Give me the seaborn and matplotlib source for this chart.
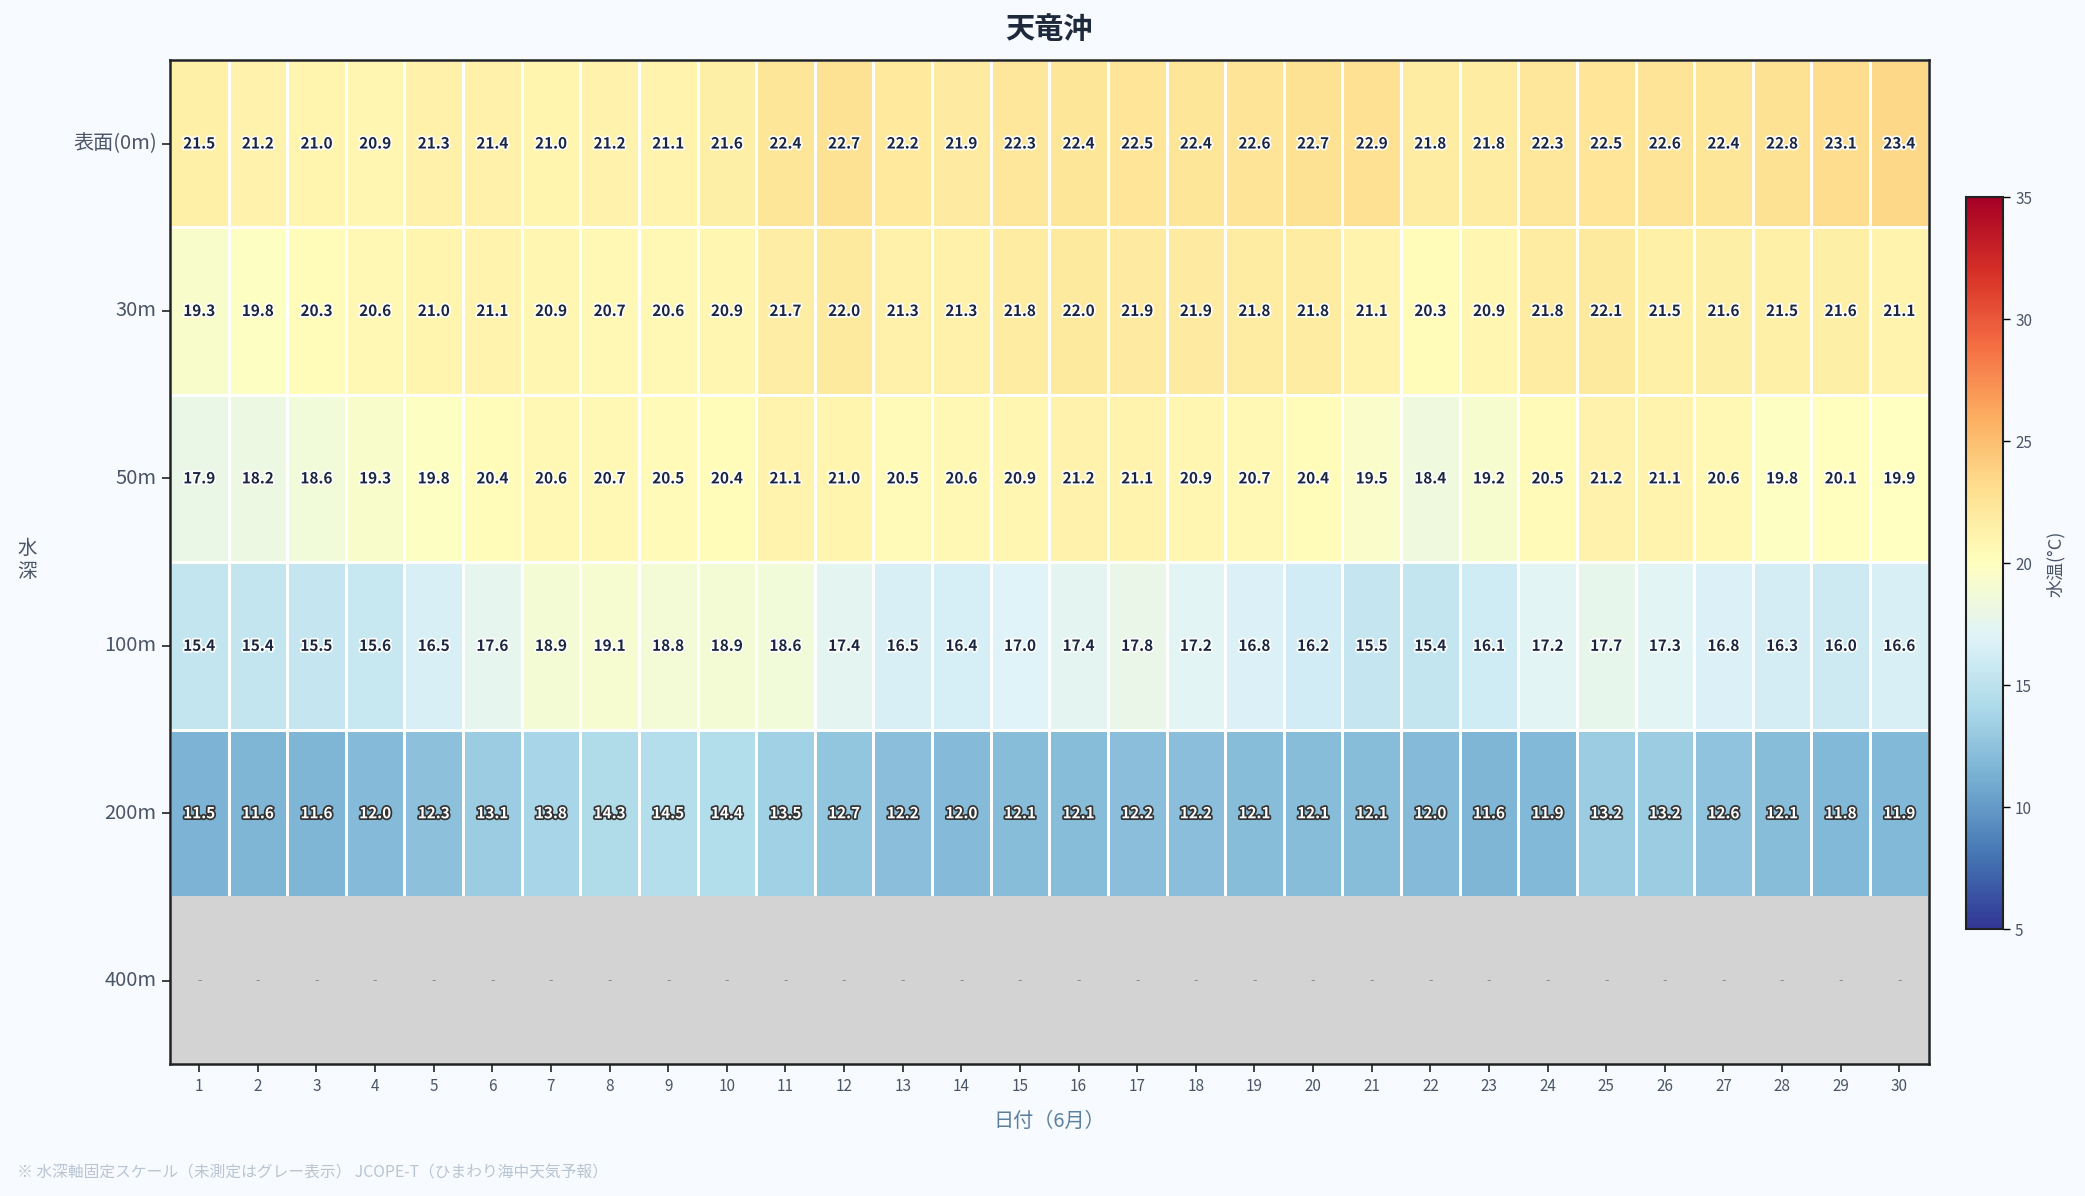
import numpy as np
import pandas as pd
import seaborn as sns
import matplotlib.pyplot as plt
import matplotlib.patheffects as pe
from matplotlib.patches import Rectangle

# Data (6月, 天竜沖)
days = list(range(1, 31))
depths = ["表面(0m)", "30m", "50m", "100m", "200m", "400m"]

t_0m = [21.5, 21.2, 21.0, 20.9, 21.3, 21.4, 21.0, 21.2, 21.1, 21.6, 22.4, 22.7, 22.2, 21.9, 22.3,
        22.4, 22.5, 22.4, 22.6, 22.7, 22.9, 21.8, 21.8, 22.3, 22.5, 22.6, 22.4, 22.8, 23.1, 23.4]
t_30m = [19.3, 19.8, 20.3, 20.6, 21.0, 21.1, 20.9, 20.7, 20.6, 20.9, 21.7, 22.0, 21.3, 21.3, 21.8,
         22.0, 21.9, 21.9, 21.8, 21.8, 21.1, 20.3, 20.9, 21.8, 22.1, 21.5, 21.6, 21.5, 21.6, 21.1]
t_50m = [17.9, 18.2, 18.6, 19.3, 19.8, 20.4, 20.6, 20.7, 20.5, 20.4, 21.1, 21.0, 20.5, 20.6, 20.9,
         21.2, 21.1, 20.9, 20.7, 20.4, 19.5, 18.4, 19.2, 20.5, 21.2, 21.1, 20.6, 19.8, 20.1, 19.9]
t_100m = [15.4, 15.4, 15.5, 15.6, 16.5, 17.6, 18.9, 19.1, 18.8, 18.9, 18.6, 17.4, 16.5, 16.4, 17.0,
          17.4, 17.8, 17.2, 16.8, 16.2, 15.5, 15.4, 16.1, 17.2, 17.7, 17.3, 16.8, 16.3, 16.0, 16.6]
t_200m = [11.5, 11.6, 11.6, 12.0, 12.3, 13.1, 13.8, 14.3, 14.5, 14.4, 13.5, 12.7, 12.2, 12.0, 12.1,
          12.1, 12.2, 12.2, 12.1, 12.1, 12.1, 12.0, 11.6, 11.9, 13.2, 13.2, 12.6, 12.1, 11.8, 11.9]
t_400m = [np.nan] * 30  # 未測定

df = pd.DataFrame([t_0m, t_30m, t_50m, t_100m, t_200m, t_400m], index=depths, columns=days)

bg = "#f7fbff"
plt.rcParams["font.family"] = ["Noto Sans CJK JP", "DejaVu Sans"]

fig = plt.figure(figsize=(20.85, 11.96), dpi=100, facecolor=bg)
ax = fig.add_axes([0.0815, 0.110, 0.8435, 0.840])
cax = fig.add_axes([0.943, 0.223, 0.0178, 0.612])

sns.heatmap(df, ax=ax, cbar_ax=cax, cmap="RdYlBu_r", vmin=5, vmax=35,
            mask=df.isna(), linewidths=2, linecolor="white", annot=False)
ax.set_facecolor("lightgray")

# cover missing rows with plain gray (no grid lines)
for i, depth in enumerate(depths):
    if df.loc[depth].isna().all():
        ax.add_patch(Rectangle((0, i - 0.006), len(days), 1.006, facecolor="lightgray",
                               edgecolor="none", zorder=2))

# cell labels
for i, depth in enumerate(depths):
    for j, d in enumerate(days):
        v = df.loc[depth, d]
        if np.isnan(v):
            ax.text(j + 0.5, i + 0.5, "-", ha="center", va="center", fontsize=9,
                    color="#888888", zorder=3)
        elif v < 15:
            ax.text(j + 0.5, i + 0.5, f"{v:.1f}", ha="center", va="center", fontsize=11,
                    fontweight="bold", color="white", zorder=3,
                    path_effects=[pe.withStroke(linewidth=2.5, foreground="#333333")])
        else:
            ax.text(j + 0.5, i + 0.5, f"{v:.1f}", ha="center", va="center", fontsize=11,
                    fontweight="bold", color="#1a2540", zorder=3,
                    path_effects=[pe.withStroke(linewidth=2.5, foreground="white")])

for s in ax.spines.values():
    s.set_visible(True)
    s.set_color("#222222")
    s.set_linewidth(1.8)
    s.set_zorder(4)

ax.set_xticklabels(days, rotation=0, fontsize=11, color="#4a5568")
ax.set_yticklabels(depths, rotation=0, fontsize=14.5, color="#4a5568")
ax.tick_params(axis="both", length=6, width=1.2, color="#222222")
ax.set_xlabel("日付（6月）", fontsize=14.5, color="#5b7f9e", labelpad=12)
ax.set_ylabel("")
fig.text(0.013, 0.532, "水\n深", fontsize=14, color="#4a5568", ha="center", va="center",
         linespacing=1.15)

ax.set_title("天竜沖", fontsize=21, fontweight="bold", color="#1e293b", pad=16)

cbar = ax.collections[0].colorbar
cbar.set_ticks([5, 10, 15, 20, 25, 30, 35])
cbar.ax.tick_params(labelsize=11, labelcolor="#4a5568", length=5, width=1)
cbar.outline.set_edgecolor("#222222")
cbar.outline.set_linewidth(1.5)
cbar.set_label("水温(°C)", fontsize=13, color="#4a5568", labelpad=10)

fig.text(0.008, 0.012, "※ 水深軸固定スケール（未測定はグレー表示） JCOPE-T（ひまわり海中天気予報）",
         fontsize=11.3, color="#b8c4d2", ha="left", va="bottom")

fig.savefig("out.png", dpi=100, facecolor=bg)
